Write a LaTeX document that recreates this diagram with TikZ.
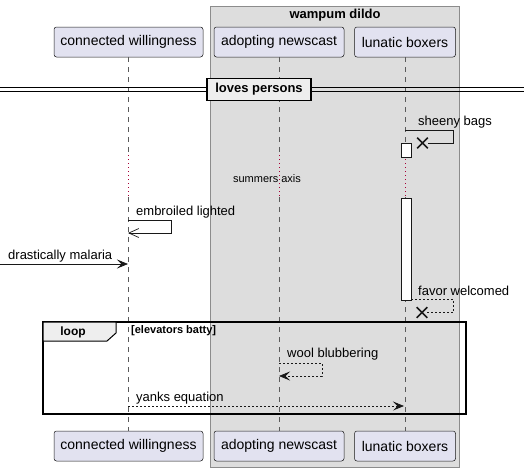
\documentclass[tikz,border=0pt]{standalone}
\usepackage{fontspec}
\setmainfont{Liberation Sans}
\usepackage{xcolor}
\usetikzlibrary{arrows.meta,shapes.misc}

\definecolor{partfill}{RGB}{226,226,240}
\definecolor{partline}{RGB}{24,24,24}
\definecolor{groupfill}{RGB}{221,221,221}
\definecolor{groupline}{RGB}{140,140,140}
\definecolor{delaydot}{RGB}{168,0,54}
\definecolor{tabfill}{RGB}{238,238,238}

\begin{document}
\begin{tikzpicture}
[x=1pt,y=1pt,yscale=-1,xscale=1,
 participant/.style={draw=partline,fill=partfill,rounded corners=2.5pt,line width=0.5pt,
   minimum height=30pt,inner sep=0pt,font=\fontsize{14}{16}\selectfont},
 lifeline/.style={draw={rgb,255:red,90;green,90;blue,90},line width=0.6pt,dash pattern=on 5pt off 5pt},
 delay/.style={draw=delaydot,line width=0.8pt,dash pattern=on 1pt off 3pt},
 actbar/.style={draw=partline,fill=white,line width=0.8pt,minimum width=10pt,inner sep=0pt},
 destroy/.style={draw=partline,cross out,line width=1.6pt,minimum size=9pt,inner sep=0pt},
 msg/.style={draw=partline,line width=0.8pt},
 reply/.style={msg,dash pattern=on 2pt off 2pt},
 filled/.style={-{Stealth[length=11pt,width=9pt,inset=4.5pt]}},
 thinhead/.style={-{Straight Barb[length=10pt,width=9pt]}},
 msglabel/.style={anchor=west,inner sep=0pt,font=\fontsize{13}{15}\selectfont}]
\useasboundingbox (0,0) rectangle (524,472);

% box
\draw [draw=groupline,fill=groupfill,line width=0.8pt] (210,6) rectangle (459,467);
\node [font=\bfseries\fontsize{13}{15}\selectfont] (grouptitle) at (335,15) {wampum dildo};

% participants
\node [participant,minimum width=149pt] (cwT) at (128.5,42) {connected willingness};
\node [participant,minimum width=130pt] (anT) at (279,42) {adopting newscast};
\node [participant,minimum width=101pt] (lbT) at (405,42) {lunatic boxers};
\node [participant,minimum width=149pt] (cwB) at (128.5,446) {connected willingness};
\node [participant,minimum width=130pt] (anB) at (279,446) {adopting newscast};
\node [participant,minimum width=101pt] (lbB) at (405,446) {lunatic boxers};

\foreach \p in {cw,an,lb} {
  \draw [lifeline] (\p T.south) -- (\p T.south |- 0,155);
  \draw [delay] (\p T.south |- 0,155) -- (\p T.south |- 0,197);
  \draw [lifeline] (\p T.south |- 0,197) -- (\p B.north);
}

% divider
\draw [line width=1pt] (0,87.5) -- (524,87.5);
\draw [line width=1pt] (0,91.5) -- (524,91.5);
\node [draw,line width=1.6pt,fill=tabfill,minimum width=104pt,minimum height=22pt,inner sep=0pt,
  font=\bfseries\fontsize{13}{15}\selectfont] (divider) at (259,89.5) {loves persons};

% activations
\node [actbar,minimum height=14pt] (actA) at (406,150) {};
\node [actbar,minimum height=102pt] (actB) at (406,249) {};

% sheeny bags
\coordinate (sbStart) at (405,130.5);
\node [destroy] (destroyA) at (422.5,143) {};
\draw [msg] (sbStart) -- ++(48,0) |- (destroyA.east);
\node [msglabel] (sbLabel) at (418,122) {sheeny bags};

\node [inner sep=0pt,font=\fontsize{11}{13}\selectfont] (delayLabel) at (267,179) {summers axis};

% embroiled lighted
\coordinate (elStart) at (128,220);
\coordinate (elEnd) at (128,233);
\draw [msg,line width=0.7pt,thinhead] (elStart) -- ++(43,0) |- (elEnd);
\node [msglabel] (elLabel) at (136,212) {embroiled lighted};

% drastically malaria
\coordinate (dmStart) at (0,264);
\coordinate (dmEnd) at (128,264);
\draw [msg,filled] (dmStart) -- (dmEnd);
\node [msglabel] (dmLabel) at (8,256) {drastically malaria};

% favor welcomed
\coordinate (fwStart) at (actB.east |- 0,299);
\node [destroy] (destroyB) at (422,312.5) {};
\draw [reply] (fwStart) -- ++(42,0) |- (destroyB.east);
\node [msglabel] (fwLabel) at (418,291) {favor welcomed};

% loop
\draw [line width=1.6pt] (43,322) rectangle (466,414);
\draw [fill=tabfill,line width=1pt] (43,322) -- (116,322) -- (116,333) -- (107,341) -- (43,341) -- cycle;
\node [font=\bfseries\fontsize{12}{14}\selectfont] (loopLabel) at (73,332) {loop};
\node [anchor=west,inner sep=0pt,font=\bfseries\fontsize{11}{13}\selectfont] (guard) at (131,331) {[elevators batty]};

% wool blubbering
\coordinate (wbStart) at (279,363);
\coordinate (wbEnd) at (279,376);
\draw [reply,filled] (wbStart) -- ++(43,0) |- (wbEnd);
\node [msglabel] (wbLabel) at (287,354) {wool blubbering};

% yanks equation
\coordinate (yeStart) at (128,406);
\coordinate (yeEnd) at (404,406);
\draw [reply,filled] (yeStart) -- (yeEnd);
\node [msglabel] (yeLabel) at (136,398) {yanks equation};

\end{tikzpicture}
\end{document}
